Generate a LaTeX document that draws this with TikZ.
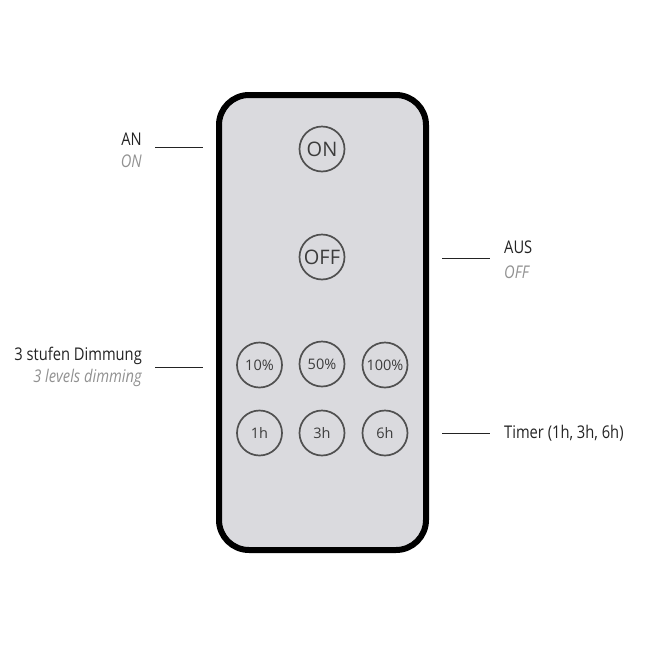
\documentclass[tikz,border=0pt]{standalone}
\usepackage{fontspec}
\setmainfont{Open Sans}
\newfontfamily\labelfont[FakeStretch=0.84]{Open Sans}
\definecolor{bodyfill}{RGB}{218,218,222}
\definecolor{btnline}{RGB}{80,80,80}
\definecolor{btntext}{RGB}{60,60,60}
\definecolor{labeltext}{RGB}{35,35,35}
\definecolor{subtext}{RGB}{145,145,145}
\tikzset{
  btn/.style={circle, draw=btnline, line width=1.7pt, minimum size=45pt, inner sep=0pt, text=btntext},
  bigbtn/.style={btn, font=\fontsize{20}{20}\selectfont},
  smallbtn/.style={btn, font=\fontsize{14.5}{14.5}\selectfont},
  lbl/.style={inner sep=0pt, text=labeltext, font=\labelfont\fontsize{17.5}{19}\selectfont},
  sub/.style={inner sep=0pt, text=subtext, font=\labelfont\itshape\fontsize{17.5}{19}\selectfont},
  leader/.style={draw=labeltext, line width=0.8pt}
}
\begin{document}
\begin{tikzpicture}[x=1pt, y=-1pt]
    \useasboundingbox (0,0) rectangle (646,646);

    % Fernbedienung
    \draw[line width=6pt, fill=bodyfill, rounded corners=30pt] (219,95) rectangle (426,550);

    \node[bigbtn] (on) at (322,149) {ON};
    \node[bigbtn] (off) at (322,257) {OFF};
    \node[smallbtn] (p10) at (259.5,365) {10\%};
    \node[smallbtn] (p50) at (322,364) {50\%};
    \node[smallbtn] (p100) at (385,365) {100\%};
    \node[smallbtn] (t1) at (259.5,433) {1h};
    \node[smallbtn] (t3) at (322,433) {3h};
    \node[smallbtn] (t6) at (385,433) {6h};

    % Beschriftungen links
    \node[lbl, anchor=east] (an) at (142,139) {AN};
    \node[sub, anchor=east] (anen) at (142,161) {ON};
    \node[lbl, anchor=east] (dim) at (142,356) {3 stufen Dimmung};
    \node[sub, anchor=east] (dimen) at (142,378) {3 levels dimming};

    % Beschriftungen rechts
    \node[lbl, anchor=west] (aus) at (504,247) {AUS};
    \node[sub, anchor=west] (ausen) at (504,272) {OFF};
    \node[lbl, anchor=west] (timer) at (504,433) {Timer (1h, 3h, 6h)};

    % Linien
    \coordinate (anA) at (155,147);   \coordinate (anB) at (203,147);
    \coordinate (dimA) at (155,367);  \coordinate (dimB) at (203,367);
    \coordinate (ausA) at (442,258);  \coordinate (ausB) at (490,258);
    \coordinate (timA) at (442,433);  \coordinate (timB) at (490,433);
    \draw[leader] (anA) -- (anB);
    \draw[leader] (dimA) -- (dimB);
    \draw[leader] (ausA) -- (ausB);
    \draw[leader] (timA) -- (timB);
\end{tikzpicture}
\end{document}
